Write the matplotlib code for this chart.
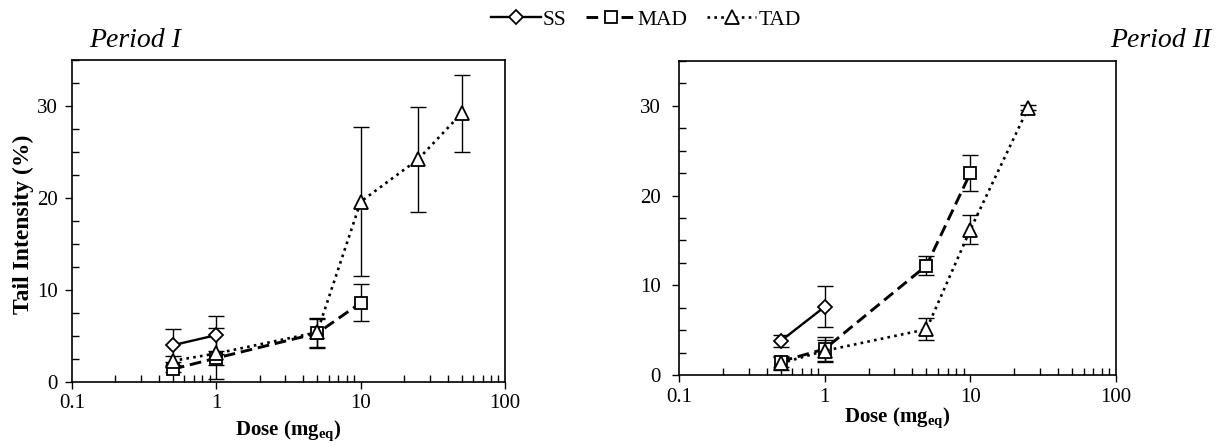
import matplotlib
matplotlib.use("Agg")
import matplotlib.pyplot as plt
from matplotlib.ticker import FixedLocator, LogLocator, FuncFormatter, MultipleLocator, NullFormatter

plt.rcParams['font.family'] = ['Liberation Serif', 'DejaVu Serif']
plt.rcParams['mathtext.fontset'] = 'custom'
plt.rcParams['mathtext.rm'] = 'Liberation Serif'
plt.rcParams['mathtext.bf'] = 'Liberation Serif:bold'
plt.rcParams['mathtext.it'] = 'Liberation Serif:italic'

# ---- data: Period I ----
p1_ss_x = [0.5, 1]
p1_ss_y = [4.0, 5.1]
p1_ss_e = [1.8, 2.1]
p1_mad_x = [0.5, 1, 5, 10]
p1_mad_y = [1.4, 2.6, 5.3, 8.6]
p1_mad_e = [0.3, 0.8, 1.6, 2.0]
p1_tad_x = [0.5, 1, 5, 10, 25, 50]
p1_tad_y = [2.3, 3.1, 5.4, 19.6, 24.2, 29.2]
p1_tad_e = [0.5, 2.8, 1.6, 8.1, 5.7, 4.2]

# ---- data: Period II ----
p2_ss_x = [0.5, 1]
p2_ss_y = [3.8, 7.6]
p2_ss_e = [0.7, 2.3]
p2_mad_x = [0.5, 1, 5, 10]
p2_mad_y = [1.5, 2.9, 12.2, 22.5]
p2_mad_e = [0.6, 1.3, 1.1, 2.0]
p2_tad_x = [0.5, 1, 5, 10, 25]
p2_tad_y = [1.3, 2.7, 5.1, 16.2, 29.8]
p2_tad_e = [0.7, 1.2, 1.2, 1.6, 0.3]

x_ticks = [0.1, 1, 10, 100]
y_ticks = [0, 10, 20, 30]
series_names = ['SS', 'MAD', 'TAD']
period_titles = ['Period I', 'Period II']

W, H = 1230, 446
fig = plt.figure(figsize=(W / 100, H / 100), dpi=100)

def box(l, t, r, b):
    return [l / W, 1 - b / H, (r - l) / W, (b - t) / H]

ax1 = fig.add_axes(box(72, 60, 505, 382))
ax2 = fig.add_axes(box(679, 61, 1116, 375))

styles = {
    'SS': dict(linestyle='-', marker='D', markersize=7, linewidth=1.7),
    'MAD': dict(linestyle=(0, (4, 2)), marker='s', markersize=8, linewidth=2.1),
    'TAD': dict(linestyle=(0, (1, 1.6)), marker='^', markersize=9.5, linewidth=1.9),
}

def draw(ax, data):
    handles = []
    for name, (x, y, e) in zip(series_names, data):
        st = styles[name]
        ax.errorbar(x, y, yerr=e, fmt='none', ecolor='black', elinewidth=1.0,
                    capsize=5.5, capthick=1.0, zorder=2)
        h, = ax.plot(x, y, color='black', markerfacecolor='white',
                     markeredgecolor='black', markeredgewidth=1.3,
                     label=name, zorder=3, **st)
        handles.append(h)
    ax.set_xscale('log')
    ax.set_xlim(0.1, 100)
    ax.set_ylim(0, 35)
    ax.xaxis.set_major_locator(FixedLocator(x_ticks))
    ax.xaxis.set_major_formatter(FuncFormatter(lambda v, p: '%g' % v))
    ax.xaxis.set_minor_locator(LogLocator(base=10, subs=range(2, 10), numticks=20))
    ax.xaxis.set_minor_formatter(NullFormatter())
    ax.yaxis.set_major_locator(FixedLocator(y_ticks))
    ax.yaxis.set_minor_locator(MultipleLocator(2.5))
    ax.tick_params(which='major', direction='out', length=5, width=1.0,
                   labelsize=15, top=False, right=False)
    ax.tick_params(which='minor', direction='in', length=5, width=1.0,
                   top=False, right=False)
    ax.tick_params(axis='x', which='major', pad=4)
    for s in ax.spines.values():
        s.set_linewidth(1.2)
    ax.set_xlabel(r'Dose (mg$_{\mathbf{eq}}$)', fontsize=15, fontweight='bold')
    return handles

h1 = draw(ax1, [(p1_ss_x, p1_ss_y, p1_ss_e), (p1_mad_x, p1_mad_y, p1_mad_e),
                (p1_tad_x, p1_tad_y, p1_tad_e)])
draw(ax2, [(p2_ss_x, p2_ss_y, p2_ss_e), (p2_mad_x, p2_mad_y, p2_mad_e),
           (p2_tad_x, p2_tad_y, p2_tad_e)])

ax1.tick_params(axis='y', which='major', pad=5)
ax2.tick_params(axis='y', which='major', pad=8)

ax1.set_ylabel('Tail Intensity (%)', fontsize=17, fontweight='bold')
ax1.yaxis.set_label_coords(-0.088, 0.49)
ax1.xaxis.set_label_coords(0.5, -0.112)
ax2.xaxis.set_label_coords(0.5, -0.098)

fig.text(89 / W, 1 - 47 / H, period_titles[0], fontsize=20, style='italic',
         ha='left', va='baseline')
fig.text(1211 / W, 1 - 47 / H, period_titles[1], fontsize=20, style='italic',
         ha='right', va='baseline')

fig.legend(handles=h1, labels=series_names, loc='upper center',
           bbox_to_anchor=(646 / W, 1.022), ncol=3, frameon=False,
           fontsize=15.5, handlelength=2.3, handletextpad=0.1, columnspacing=0.9)

fig.savefig('out.png', dpi=100)
